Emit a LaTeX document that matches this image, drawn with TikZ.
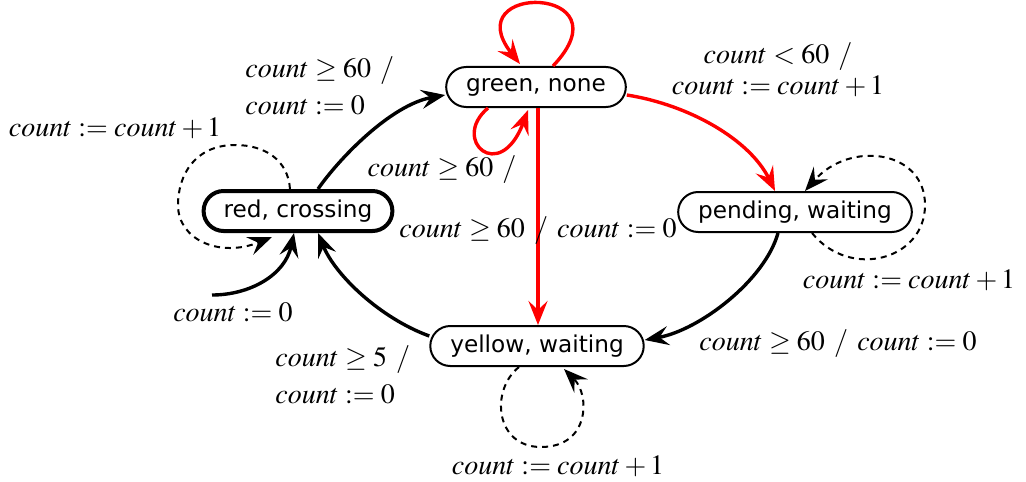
\documentclass[tikz,border=0pt]{standalone}
\usepackage{mathptmx}
\usepackage{fontspec}
\newfontfamily\statefont{DejaVu Sans}
\usetikzlibrary{arrows.meta, positioning, calc}

\begin{document}
\begin{tikzpicture}[x=0.5pt, y=-0.5pt,
  state/.style={draw, rounded corners=10pt, minimum height=20pt, inner xsep=10pt,
                line width=1pt, fill=white, font=\statefont\fontsize{11.6}{13}\selectfont},
  lbl/.style={inner sep=1pt, font=\fontsize{14}{18.5}\selectfont},
  trans/.style={-{Stealth[length=12pt, width=9.5pt, inset=4.5pt]}, line width=1.7pt},
  redtrans/.style={trans, red},
  selftrans/.style={-{Stealth[length=12pt, width=9.5pt, inset=4.5pt]}, line width=1pt,
                    dash pattern=on 3pt off 2.5pt}
]
  \useasboundingbox (0,0) rectangle (1026,481);

  % States
  \node[state] (green) at (536,87) {green, none};
  \node[state, line width=2pt] (red) at (298,211) {red, crossing};
  \node[state] (pending) at (795,212) {pending, waiting};
  \node[state] (yellow) at (537,346) {yellow, waiting};

  % Initial transition
  \coordinate (init) at (212,295);
  \draw[trans] (init) .. controls (250,295) and (285,275) .. ($(red.south)+(-4,0)$);

  % red -> green
  \draw[trans] ($(red.north)+(20,0)$) .. controls (338,160) and (390,105) .. ($(green.west)+(0,8)$);
  \node[lbl, align=left, anchor=west] (redgreen) at (243,86) {$count \geq 60\ /$\\ $count := 0$};

  % red self loop
  \draw[selftrans] ($(red.north)+(-8,0)$) .. controls (288,160) and (265,145) .. (235,145)
    .. controls (195,145) and (178,175) .. (178,205)
    .. controls (178,240) and (220,258) .. ($(red.south)+(-26,4)$);
  \node[lbl] (redloop) at (115,128) {$count := count + 1$};

  % green self loops
  \draw[redtrans] ($(green.north)+(17,0)$) .. controls (630,-15) and (455,-18) .. ($(green.north)+(-16,-2)$);
  \draw[redtrans] ($(green.south)+(-48,0)$) .. controls (450,140) and (500,185) .. ($(green.south)+(-8,2)$);
  \node[lbl, align=center, font=\fontsize{14}{15.5}\selectfont] (greenloop) at (778,70)
    {$count < 60\ /$\\ $count := count + 1$};
  \node[lbl] (greenloopb) at (442,170) {$count \geq 60\ /$};

  % green -> pending
  \draw[redtrans] ($(green.east)+(0,8)$) .. controls (690,105) and (750,140) .. ($(pending.north)+(-20,0)$);

  % green -> yellow
  \draw[redtrans] ($(green.south)+(2,0)$) -- ($(yellow.north)+(1,0)$);
  \node[lbl] (greenyellow) at (538,231) {$count \geq 60\ /\ count := 0$};

  % pending self loop
  \draw[selftrans] ($(pending.south)+(17,0)$) .. controls (850,280) and (925,260) .. (925,205)
    .. controls (925,150) and (850,140) .. ($(pending.north)+(10,0)$);
  \node[lbl] (pendingloop) at (909,280) {$count := count + 1$};

  % pending -> yellow
  \draw[trans] ($(pending.south)+(-17,0)$) .. controls (765,280) and (700,330) .. ($(yellow.east)+(0,-6)$);
  \node[lbl] (pendingyellow) at (838,344) {$count \geq 60\ /\ count := 0$};

  % yellow self loop
  \draw[selftrans] ($(yellow.south)+(-18,0)$) .. controls (490,390) and (495,447) .. (541,447)
    .. controls (590,447) and (590,395) .. ($(yellow.south)+(27,2)$);
  \node[lbl] (yellowloop) at (558,466) {$count := count + 1$};

  % yellow -> red
  \draw[trans] ($(yellow.west)+(0,-10)$) .. controls (380,318) and (335,275) .. ($(red.south)+(20,0)$);
  \node[lbl, align=left, anchor=west] (yellowred) at (273,375) {$count \geq 5\ /$\\ $count := 0$};

  \node[lbl] (initlbl) at (233,312) {$count := 0$};
\end{tikzpicture}
\end{document}
